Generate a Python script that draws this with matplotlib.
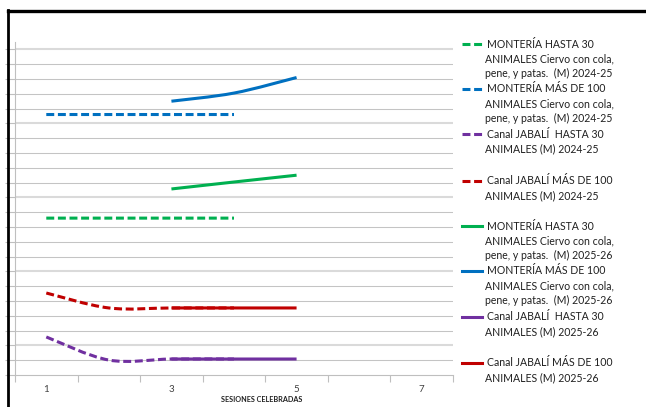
# Excel-style line chart, two seasons, dashed = 2024-25, solid = 2025-26

import matplotlib as mp
mp.use("Agg")
import matplotlib.pyplot as plot
from matplotlib.path import Path
from matplotlib.patches import PathPatch
from matplotlib.lines import Line2D
import numpy as np

nan = np.nan

sessions = [1, 2, 3, 4, 5, 6, 7]
xtick_labels = ["1", "3", "5", "7"]
xlabel = "SESIONES CELEBRADAS"

labels = [
    "MONTERÍA HASTA 30\nANIMALES Ciervo con cola,\npene, y patas.  (M) 2024-25",
    "MONTERÍA MÁS DE 100\nANIMALES Ciervo con cola,\npene, y patas.  (M) 2024-25",
    "Canal JABALÍ  HASTA 30\nANIMALES (M) 2024-25",
    "Canal JABALÍ MÁS DE 100\nANIMALES (M) 2024-25",
    "MONTERÍA HASTA 30\nANIMALES Ciervo con cola,\npene, y patas.  (M) 2025-26",
    "MONTERÍA MÁS DE 100\nANIMALES Ciervo con cola,\npene, y patas.  (M) 2025-26",
    "Canal JABALÍ  HASTA 30\nANIMALES (M) 2025-26",
    "Canal JABALÍ MÁS DE 100\nANIMALES (M) 2025-26",
]

# values (one unit = one minor gridline)
monteria30_2425  = [10.6, 10.6, 10.6, 10.6, nan, nan, nan]
monteria100_2425 = [17.6, 17.6, 17.6, 17.6, nan, nan, nan]
jabali30_2425    = [2.57, 1.01, 1.08, 1.08, nan, nan, nan]
jabali100_2425   = [5.54, 4.53, 4.53, 4.53, nan, nan, nan]
monteria30_2526  = [nan, nan, 12.57, 13.04, 13.5, nan, nan]
monteria100_2526 = [nan, nan, 18.5, 19.05, 20.1, nan, nan]
jabali30_2526    = [nan, nan, 1.08, 1.08, 1.08, nan, nan]
jabali100_2526   = [nan, nan, 4.53, 4.53, 4.53, nan, nan]

series = [monteria30_2425, monteria100_2425, jabali30_2425, jabali100_2425,
          monteria30_2526, monteria100_2526, jabali30_2526, jabali100_2526]

green = "#00b050"
blue = "#0070c0"
purple = "#7030a0"
red = "#c00000"
colors = [green, blue, purple, red] * 2
dash = (0, (2.6, 1.2))
styles = [dash] * 4 + ["solid"] * 4

lw_line = 2.2
grid_minor = "#c4c4c4"
grid_major = "#dadada"
axis_color = "#bfbfbf"

W, H = 646, 407
fig = plot.figure(figsize=(W / 100, H / 100), dpi=100)

def fx(px): return px / W
def fy(py): return 1 - py / H

ax = fig.add_axes([fx(15), fy(375), fx(453) - fx(15), fy(42) - fy(375)])
ax.set_xlim(0.5, 7.5)
ax.set_ylim(0, 22.5)

for s in ["top", "right"]:
    ax.spines[s].set_visible(False)
for s in ["left", "bottom"]:
    ax.spines[s].set_color(axis_color)
    ax.spines[s].set_linewidth(0.8)

# gridlines: minor every unit, heavier light ones every 5
for v in range(1, 23):
    if v % 5 == 2:
        ax.axhline(v, color=grid_major, linewidth=1.5, zorder=1)
    else:
        ax.axhline(v, color=grid_minor, linewidth=0.75, zorder=1)

ax.set_yticks(range(0, 23))
ax.set_yticklabels([])
ax.yaxis.set_tick_params(length=7, width=0.8, color=axis_color)

ax.set_xticks(np.arange(0.5, 8.0, 1.0))
ax.set_xticklabels([])
ax.xaxis.set_tick_params(length=5, width=0.8, color=axis_color)
ax.set_xticks([1, 3, 5, 7], minor=True)
ax.set_xticklabels(xtick_labels, minor=True, fontsize=7, color="#404040",
                   family="Lato")
ax.xaxis.set_tick_params(which="minor", length=0, pad=7)
ax.set_xlabel(xlabel, fontsize=5.2, fontweight="bold", family="Lato",
              color="#202020", va="center")
ax.xaxis.set_label_coords((262 - 15) / 438, (375 - 400) / 333)


def smooth(xs, ys):
    # Excel-like smoothed line: Catmull-Rom turned into cubic Beziers
    pts = [(x, y) for x, y in zip(xs, ys) if not np.isnan(y)]
    p = np.array(pts, dtype=float)
    verts = [p[0]]
    codes = [Path.MOVETO]
    n = len(p)
    for i in range(n - 1):
        p0 = p[i - 1] if i > 0 else p[i]
        p1 = p[i]
        p2 = p[i + 1]
        p3 = p[i + 2] if i + 2 < n else p[i + 1]
        verts += [p1 + (p2 - p0) / 6, p2 - (p3 - p1) / 6, p2]
        codes += [Path.CURVE4] * 3
    return Path(verts, codes)


for vals, c, ls in zip(series, colors, styles):
    patch = PathPatch(smooth(sessions, vals), fill=False, edgecolor=c,
                      linewidth=lw_line, linestyle=ls, capstyle="butt",
                      zorder=3)
    ax.add_patch(patch)

# legend on the right, one slot of three lines per entry
leg_y = [44, 89, 134, 181, 226, 271, 317, 363]
line_h = 14.5
for lab, c, ls, y in zip(labels, colors, styles, leg_y):
    fig.add_artist(Line2D([fx(462), fx(482)], [fy(y), fy(y)], color=c,
                          linewidth=lw_line, linestyle=ls,
                          transform=fig.transFigure))
    for i, part in enumerate(lab.split("\n")):
        x0 = 487 if i == 0 else 485
        fig.text(fx(x0), fy(y + i * line_h), part, fontsize=7.6,
                 family="Lato", color="#202020", va="center", ha="left")

# black frame of the screenshot crop
fig.add_artist(Line2D([fx(8), fx(8)], [fy(10), 0], color="black",
                      linewidth=2, transform=fig.transFigure))
fig.add_artist(Line2D([fx(8), 1], [fy(10.5), fy(10.5)], color="black",
                      linewidth=2.4, transform=fig.transFigure))

plot.savefig("out.png", dpi=100)
